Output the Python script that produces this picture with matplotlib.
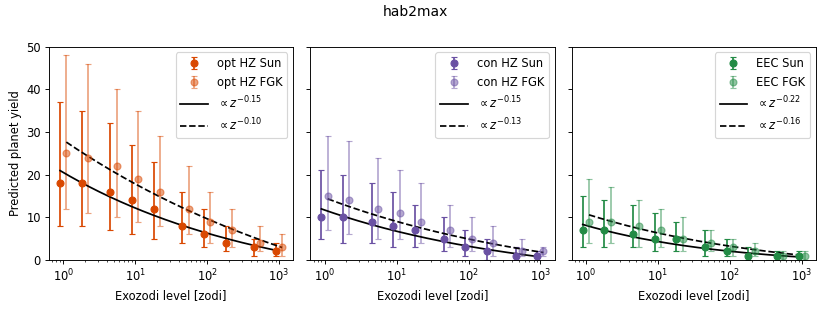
import numpy as np
import matplotlib
matplotlib.use('Agg')
import matplotlib.pyplot as plt

# exozodi levels
zodi = np.array([1, 2, 5, 10, 20, 50, 100, 200, 500, 1000])
shift = 0.1  # small horizontal offset between Sun and FGK points

titles = ['opt HZ', 'con HZ', 'EEC']
colors = ['#d94801', '#6a51a3', '#238b45']

# yields (median, lower, upper) read per panel
sun_y = [[18, 18, 16, 14, 12, 8, 6, 4, 3, 2],
         [10, 10, 9, 8, 7, 5, 3, 2, 1, 1],
         [7, 7, 6, 5, 5, 3, 2, 1, 1, 1]]
sun_lo = [[8, 8, 7, 6, 5, 4, 3, 2, 1, 1],
          [5, 4, 4, 3, 3, 2, 1, 0, 0, 0],
          [3, 3, 3, 2, 2, 1, 1, 0, 0, 0]]
sun_hi = [[37, 35, 32, 27, 23, 16, 12, 8, 5, 4],
          [21, 20, 18, 16, 13, 10, 7, 5, 3, 2],
          [15, 14, 13, 11, 9, 7, 5, 3, 2, 2]]
fgk_y = [[25, 24, 22, 19, 16, 12, 9, 7, 4, 3],
         [15, 14, 12, 11, 9, 7, 5, 4, 2, 2],
         [9, 9, 8, 7, 5, 4, 3, 2, 1, 1]]
fgk_lo = [[12, 11, 10, 9, 8, 6, 4, 3, 2, 1],
          [7, 6, 5, 5, 4, 3, 2, 1, 1, 1],
          [4, 4, 3, 3, 2, 2, 1, 1, 0, 0]]
fgk_hi = [[48, 46, 40, 35, 29, 22, 16, 12, 8, 6],
          [29, 28, 24, 21, 18, 13, 10, 8, 5, 3],
          [19, 17, 14, 12, 10, 7, 5, 4, 2, 2]]

# fit curves y = A * z**b - C
fit_sun = [(28.5, -0.15, 8.0), (17.0, -0.15, 5.3), (9.5, -0.22, 1.4)]
fit_fgk = [(50.0, -0.10, 21.9), (21.5, -0.13, 6.9), (14.5, -0.16, 3.7)]

fig, axes = plt.subplots(1, 3, figsize=(10, 3.747), dpi=83, sharey=True)
fig.subplots_adjust(left=0.059, right=0.983, top=0.85, bottom=0.164, wspace=0.07)

x_sun = zodi * (1 - shift)
x_fgk = zodi * (1 + shift)
for i, ax in enumerate(axes):
    c = colors[i]
    y = np.array(sun_y[i])
    err = [y - np.array(sun_lo[i]), np.array(sun_hi[i]) - y]
    h1 = ax.errorbar(x_sun, y, yerr=err, fmt='o', color=c, capsize=3,
                     label=titles[i] + ' Sun')
    y = np.array(fgk_y[i])
    err = [y - np.array(fgk_lo[i]), np.array(fgk_hi[i]) - y]
    h2 = ax.errorbar(x_fgk, y, yerr=err, fmt='o', color=c, alpha=0.5, capsize=3,
                     label=titles[i] + ' FGK')
    A, b, C = fit_sun[i]
    xx = np.logspace(np.log10(x_sun[0]), np.log10(x_sun[-1]), 200)
    h3, = ax.plot(xx, A * xx**b - C, 'k-', label=r'$\propto z^{%.2f}$' % b)
    A, b, C = fit_fgk[i]
    xx = np.logspace(np.log10(x_fgk[0]), np.log10(x_fgk[-1]), 200)
    h4, = ax.plot(xx, A * xx**b - C, 'k--', label=r'$\propto z^{%.2f}$' % b)
    ax.set_xscale('log')
    ax.set_ylim(0, 50)
    ax.set_xlabel('Exozodi level [zodi]')
    ax.legend(handles=[h1, h2, h3, h4], loc='upper right', handlelength=2.4)

axes[0].set_ylabel('Predicted planet yield')
fig.suptitle('hab2max', y=0.985)
fig.savefig('out.png')
